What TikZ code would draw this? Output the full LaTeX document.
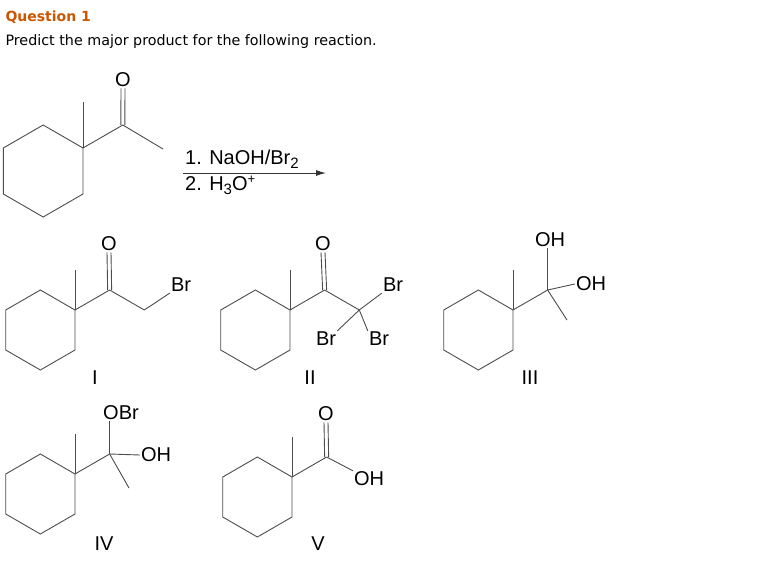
\documentclass[tikz,border=0pt]{standalone}
\usepackage{fontspec}
\setmainfont{Liberation Sans}
\newfontfamily\verd{DejaVu Sans}
\usetikzlibrary{arrows.meta}
\newcommand\sbs[1]{\raisebox{-4pt}{\fontsize{15}{15}\selectfont #1}}
\newcommand\sps[1]{\raisebox{7pt}{\fontsize{13}{13}\selectfont #1}}
\begin{document}
\begin{tikzpicture}[x=1pt,y=-1pt,
  bond/.style={draw=black!70,line width=0.9pt},
  atom/.style={inner sep=1pt,font=\fontsize{20}{20}\selectfont},
  numer/.style={font=\fontsize{20}{20}\selectfont}]
\useasboundingbox (0,0) rectangle (760,587);
\newcommand\skel[3]{% name, Q, b
  \begin{scope}[shift={#2},scale=#3]
  \coordinate (#1q) at (0,0);
  \coordinate (#1c) at (0.866,-0.5);
  \coordinate (#1o) at (0.866,-1.5);
  \coordinate (#1n) at (1.732,0);
  \draw[bond] (0,0)--(-0.866,-0.5)--(-1.732,0)--(-1.732,1)--(-0.866,1.5)--(0,1)--cycle;
  \draw[bond] (0,0)--(0,-1);
  \draw[bond] (0,0)--(0.866,-0.5);
  \end{scope}}
\node[anchor=west,font=\verd\bfseries\fontsize{14}{14}\selectfont,text={rgb,255:red,204;green,85;blue,0}] (t1) at (2,17) {Question 1};
\node[anchor=west,font=\verd\fontsize{14.3}{14}\selectfont] (t2) at (2,42) {Predict the major product for the following reaction.};
% starting ketone
\skel{a}{(83,148)}{46}
\node[atom] (aO) at (123,80) {O};
\draw[bond] ([xshift=-2pt]aO.south) -- ([xshift=-2pt]ac);
\draw[bond] ([xshift=2pt]aO.south) -- ([xshift=2pt]ac);
\coordinate (ame) at (163,149);
\draw[bond] (ac)--(ame);
\coordinate (ar1) at (183,173); \coordinate (ar2) at (326,173);
\draw[-{Latex[length=10pt,width=6pt]},line width=1pt,black!80] (ar1)--(ar2);
\node[atom,anchor=south west] (r1) at (184,170) {1. NaOH/Br\sbs{2}};
\node[atom,anchor=north west] (r2) at (184,175) {2. H\sbs{3}O\sps{+}};
% I
\skel{b}{(75,310)}{40}
\node[atom] (bO) at (109,244) {O};
\draw[bond] ([xshift=-2pt]bO.south) -- ([xshift=-2pt]bc);
\draw[bond] ([xshift=2pt]bO.south) -- ([xshift=2pt]bc);
\draw[bond] (bc)--(bn);
\node[atom] (bBr) at (181,285) {Br};
\draw[bond] (bn)--(bBr.south west);
\node[numer] (nI) at (95,378) {I};
% II
\skel{c}{(290,310)}{40}
\node[atom] (cO) at (323,244) {O};
\draw[bond] ([xshift=-2pt]cO.south) -- ([xshift=-2pt]cc);
\draw[bond] ([xshift=2pt]cO.south) -- ([xshift=2pt]cc);
\draw[bond] (cc)--(cn);
\node[atom] (cBr1) at (393,285) {Br};
\node[atom] (cBr2) at (326,339) {Br};
\node[atom] (cBr3) at (379,339) {Br};
\draw[bond] (cn)--(cBr1.south west);
\draw[bond] (cn)--(cBr2.north east);
\draw[bond] (cn)--(cBr3.north west);
\node[numer] (nII) at (310,378) {II};
% III
\skel{d}{(513,310)}{40}
\node[atom] (dO1) at (550,240) {OH};
\node[atom] (dO2) at (591,284) {OH};
\draw[bond] (dc)--(dc|-dO1.south);
\draw[bond] (dc)--(dO2.west);
\coordinate (dme) at (567,320);
\draw[bond] (dc)--(dme);
\node[numer] (nIII) at (530,378) {III};
% IV
\skel{e}{(75,474)}{40}
\node[atom] (eO1) at (121,413) {OBr};
\node[atom] (eO2) at (156,455) {OH};
\draw[bond] (ec)--(ec|-eO1.south);
\draw[bond] (ec)--(eO2.west);
\coordinate (eme) at (129,488);
\draw[bond] (ec)--(eme);
\node[numer] (nIV) at (104,544) {IV};
% V
\skel{f}{(292,477)}{40}
\node[atom] (fO) at (326,414) {O};
\draw[bond] ([xshift=-2pt]fO.south) -- ([xshift=-2pt]fc);
\draw[bond] ([xshift=2pt]fO.south) -- ([xshift=2pt]fc);
\node[atom] (fOH) at (369,479) {OH};
\draw[bond] (fc)--(fOH.north west);
\node[numer] (nV) at (318,544) {V};
\end{tikzpicture}
\end{document}
